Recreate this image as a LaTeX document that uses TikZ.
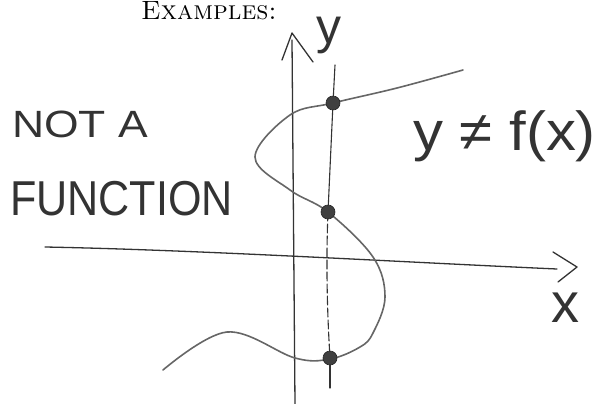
\documentclass[tikz,border=0pt]{standalone}
\usepackage{fontspec}
\newfontfamily\hand{Liberation Sans}
\begin{document}
\begin{tikzpicture}[x=1pt,y=-1pt,
  pencil/.style={draw=black!80, line width=1.3pt, line cap=round, line join=round},
  soft/.style={draw=black!60, line width=1.6pt, line cap=round, line join=round},
  dotmark/.style={fill=black!75, draw=black!85, line width=0.6pt},
  handtext/.style={inner sep=0pt, text=black!80, font=\hand}]
\useasboundingbox (0,0) rectangle (600,404);
% title
\node[inner sep=0pt, anchor=base west, text height=0.6em, font=\fontsize{26.5}{30}\selectfont] (title) at (141,20) {\textsc{Examples:}};
% x axis
\coordinate (xa0) at (45,247);
\coordinate (xa1) at (557,269);
\draw[pencil] (xa0) .. controls (200,250) and (400,262) .. (xa1);
\coordinate (xh1) at (553,252);
\coordinate (xhtip) at (577,267);
\coordinate (xh2) at (558,282);
\draw[pencil] (xh1) -- (xhtip) -- (xh2);
% y axis
\coordinate (ya0) at (295,404);
\coordinate (ya1) at (292,40);
\draw[pencil] (ya0) -- (ya1);
\coordinate (yh1) at (282,60);
\coordinate (yhtip) at (292,33);
\coordinate (yh2) at (313,62);
\draw[pencil] (yh1) -- (yhtip) -- (yh2);
% vertical test line
\coordinate (v0) at (335,65);
\coordinate (v1) at (333,103);
\coordinate (v2) at (328,212);
\coordinate (v3) at (330,358);
\coordinate (v4) at (330,388);
\draw[pencil, line width=1.1pt] (v0) -- (v1) -- (v2);
\draw[pencil, line width=1.1pt, dash pattern=on 9pt off 3pt] (v2) .. controls (326,260) and (327,310) .. (v3);
\draw[pencil, line width=1.1pt] (v3) -- (v4);
% curve
\draw[soft] plot[smooth, tension=0.6] coordinates {(163,370) (227,332) (295,358) (330,359) (360,347) (373,333) (385,297) (373,257) (328,212) (290,190) (255,157) (290,115) (333,103) (397,88) (463,70)};
% intersection dots
\fill[dotmark] (v1) circle (7);
\fill[dotmark] (v2) circle (7);
\fill[dotmark] (v3) circle (7);
% labels
\node[handtext, anchor=base west, text height=0.5em, font=\hand\fontsize{50}{54}\selectfont] (ylab) at (316,44) {y};
\node[handtext, anchor=base west, text height=0.5em, font=\hand\fontsize{56}{60}\selectfont] (xlab) at (551,322) {x};
\node[handtext, anchor=base west, xscale=1.17, font=\hand\fontsize{38}{42}\selectfont] (nota) at (12,137) {NOT A};
\node[handtext, anchor=base west, xscale=0.88, font=\hand\fontsize{49}{52}\selectfont] (func) at (10,215) {FUNCTION};
\node[handtext, anchor=base west, xscale=1.09, font=\hand\fontsize{55}{58}\selectfont] (eq) at (413,150) {y ≠ f(x)};
\end{tikzpicture}
\end{document}
